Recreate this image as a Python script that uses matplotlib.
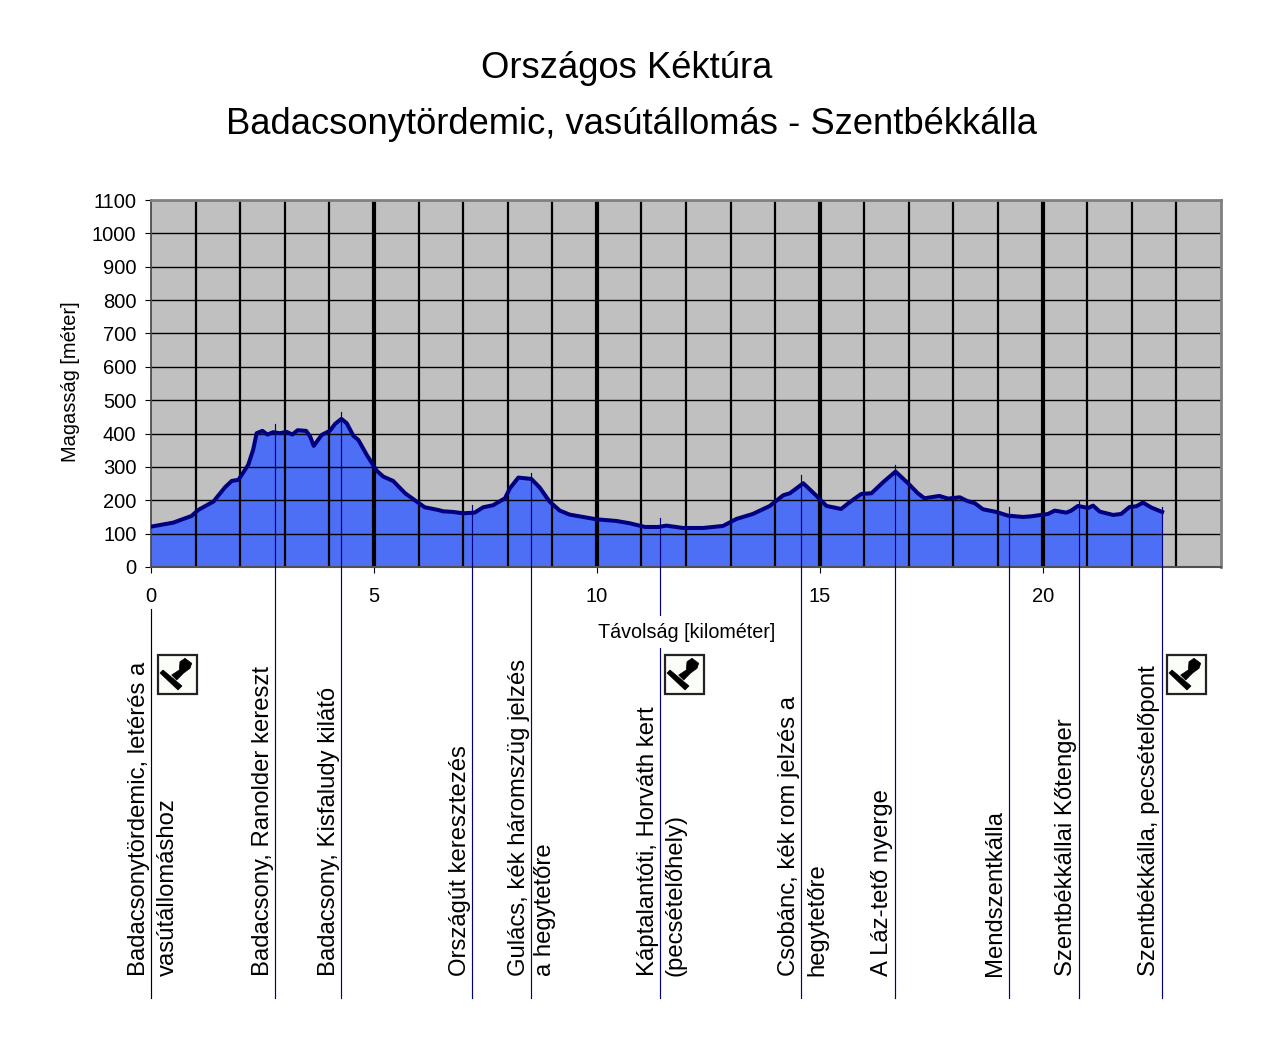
import matplotlib
matplotlib.use("Agg")
import matplotlib.pyplot as plt
from matplotlib.patches import Rectangle, Polygon
from matplotlib.transforms import Affine2D

plt.rcParams['font.family'] = ['Liberation Sans', 'DejaVu Sans']

km = [0, .5, .91, 1.06, 1.4, 1.66, 1.81, 1.96, 2.18, 2.29, 2.37, 2.5, 2.61, 2.74, 2.89, 3.04, 3.17, 3.29, 3.48,
      3.57, 3.65, 3.83, 4.01, 4.13, 4.27, 4.39, 4.54, 4.65, 4.84, 5.06, 5.21, 5.43, 5.7, 5.96, 6.14, 6.44, 6.55,
      6.78, 7.0, 7.26, 7.45, 7.67, 7.94, 8.05, 8.24, 8.53, 8.72, 8.94, 9.17, 9.39, 9.69, 9.99, 10.44, 10.74,
      11.08, 11.38, 11.56, 11.93, 12.38, 12.83, 13.13, 13.5, 13.88, 14.18, 14.33, 14.63, 14.93, 15.15, 15.48,
      15.67, 15.93, 16.16, 16.42, 16.7, 16.98, 17.2, 17.35, 17.68, 17.88, 18.14, 18.29, 18.48, 18.66, 18.96,
      19.22, 19.56, 19.75, 20.01, 20.12, 20.27, 20.53, 20.64, 20.79, 21.02, 21.13, 21.28, 21.58, 21.76, 21.95,
      22.1, 22.25, 22.44, 22.68]
elevation = [121, 133, 153, 171, 196, 239, 258, 261, 306, 351, 401, 408, 397, 404, 401, 405, 397, 410, 408,
             391, 363, 396, 408, 429, 444, 431, 393, 381, 336, 289, 271, 258, 221, 196, 179, 171, 167,
             165, 161, 163, 179, 185, 206, 236, 268, 264, 238, 196, 169, 157, 150, 143, 138, 131,
             120, 120, 124, 117, 117, 123, 144, 159, 183, 215, 221, 251, 213, 183, 174,
             194, 219, 221, 254, 286, 251, 221, 206, 213, 205, 209, 199, 191, 173, 165,
             154, 150, 152, 157, 159, 169, 163, 169, 183, 177, 184, 166, 156, 159, 180,
             182, 193, 178, 165]

y_ticks = list(range(0, 1101, 100))
x_ticks = [0, 5, 10, 15, 20]
km_grid = [k for k in range(1, 24)]
km_heavy = [5, 10, 15, 20]

station_km = [0, 2.78, 4.26, 7.20, 8.52, 11.42, 14.58, 16.69, 19.24, 20.81, 22.68]
station_top = [-126, 429, 465, 186, 281, 147, 275, 305, 180, 198, 180]
station_color = ['black'] + ['#000080'] * 10
label_lines = [
    (145, 'Badacsonytördemic, letérés a'), (174, 'vasútállomáshoz'),
    (269, 'Badacsony, Ranolder kereszt'),
    (335, 'Badacsony, Kisfaludy kilátó'),
    (466, 'Országút keresztezés'),
    (525, 'Gulács, kék háromszüg jelzés'), (551, 'a hegytetőre'),
    (654, 'Káptalantóti, Horváth kert'), (682, '(pecsételőhely)'),
    (795, 'Csobánc, kék rom jelzés a'), (823, 'hegytetőre'),
    (888, 'A Láz-tető nyerge'),
    (1001, 'Mendszentkálla'),
    (1072, 'Szentbékkállai Kőtenger'),
    (1155, 'Szentbékkálla, pecsételőpont'),
]
stamp_x = [157, 664, 1166]
stamp_y = 654

W, H = 1280, 1050
fig = plt.figure(figsize=(W / 100, H / 100), dpi=100, facecolor='white')
ax = fig.add_axes([151 / W, 1 - 567 / H, (1221 - 151) / W, (567 - 200) / H], facecolor='#C0C0C0')
ax.set_xlim(0, 24)
ax.set_ylim(0, 1100)

px = Affine2D().scale(1, -1).translate(0, H)

ax.fill_between(km, elevation, 0, color='#4D6FF5', lw=0, zorder=1)
ax.hlines(y_ticks[1:-1], 0, 24, color='black', lw=1.0, zorder=2)
ax.vlines(km_grid, 0, 1100, color='black', lw=1.6, zorder=2)
ax.vlines(km_heavy, 0, 1100, color='black', lw=3, zorder=2.1)
ax.plot(km, elevation, color='#000080', lw=2.9, zorder=3, solid_joinstyle='round')

for k, top, c in zip(station_km, station_top, station_color):
    ax.plot([k, k], [top, -1292], color=c, lw=0.85, clip_on=False, zorder=4)

ax.set_xticks(x_ticks)
ax.set_yticks(y_ticks)
ax.tick_params(axis='both', labelsize=14.5, length=4.5, width=0.8, color='black')
ax.tick_params(axis='x', pad=10)
ax.tick_params(axis='y', pad=6)
for s in ['top', 'right']:
    ax.spines[s].set_color('#808080')
    ax.spines[s].set_linewidth(2)
ax.spines['bottom'].set_color('#505050')
ax.spines['bottom'].set_linewidth(1.5)
ax.spines['left'].set_color('#404040')
ax.spines['left'].set_linewidth(1.2)
for s in ax.spines.values():
    s.set_zorder(2.5)

fig.text(627 / W, 1 - 69 / H, 'Országos Kéktúra', fontsize=26.2, ha='center', va='center')
fig.text(631 / W, 1 - 124 / H, 'Badacsonytördemic, vasútállomás - Szentbékkálla', fontsize=26.2, ha='center', va='center')
fig.text(686.5 / W, 1 - 632 / H, 'Távolság [kilométer]', fontsize=14.2, ha='center', va='center', zorder=10,
         bbox=dict(facecolor='white', edgecolor='none', pad=5))
fig.text(70 / W, 1 - 382 / H, 'Magasság [méter]', fontsize=14.4, rotation=90, ha='center', va='center')

for x, s in label_lines:
    fig.text(x / W, 1 - 976 / H, s, fontsize=17.2, rotation=90, ha='left', va='baseline', rotation_mode='anchor')

for x0 in stamp_x:
    y0 = stamp_y
    fig.add_artist(Rectangle((x0 + 0.5, y0 + 0.5), 39.5, 39.5, transform=px, facecolor='#FBFDF8', edgecolor='#222222', lw=1.6))
    fig.add_artist(Polygon([(x0 + 3, y0 + 19), (x0 + 6, y0 + 16), (x0 + 25, y0 + 32), (x0 + 21, y0 + 36)], closed=True,
                           transform=px, facecolor='black', edgecolor='black', lw=0.5))
    fig.add_artist(Polygon([(x0 + 14.7, y0 + 21), (x0 + 19.7, y0 + 26), (x0 + 26.3, y0 + 19.3), (x0 + 33, y0 + 14.3),
                            (x0 + 34.7, y0 + 9.3), (x0 + 28, y0 + 4.3), (x0 + 23, y0 + 7.7), (x0 + 22.3, y0 + 16)],
                           closed=True, transform=px, facecolor='black', edgecolor='black', lw=0.5))

fig.savefig('out.png', dpi=100)
